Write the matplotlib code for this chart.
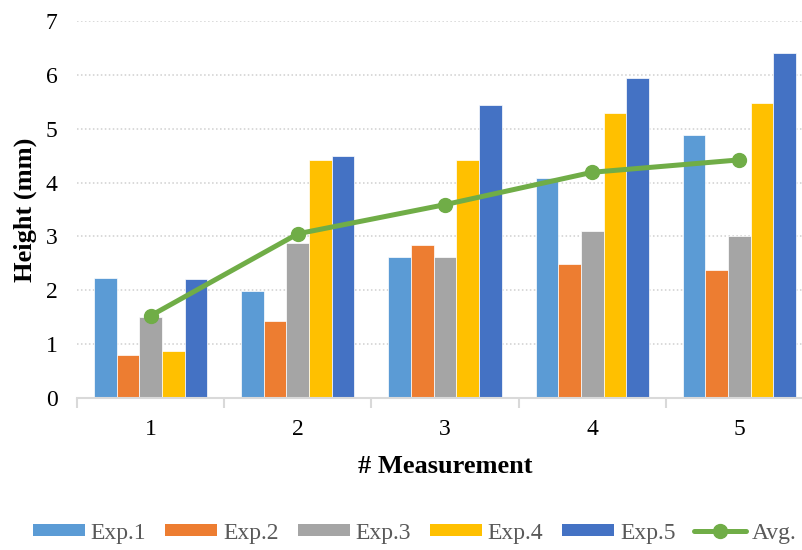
import matplotlib
matplotlib.use("Agg")
import matplotlib.pyplot as plt
import numpy as np
from matplotlib.lines import Line2D
from matplotlib.patches import Patch

# Measurement data (height in mm)
measurements = ["1", "2", "3", "4", "5"]
exp1 = [2.23, 1.99, 2.62, 4.09, 4.89]
exp2 = [0.80, 1.43, 2.85, 2.49, 2.37]
exp3 = [1.51, 2.88, 2.62, 3.10, 3.00]
exp4 = [0.88, 4.42, 4.41, 5.28, 5.47]
exp5 = [2.21, 4.50, 5.43, 5.94, 6.40]
avg = [1.53, 3.05, 3.59, 4.19, 4.42]

series_names = ["Exp.1", "Exp.2", "Exp.3", "Exp.4", "Exp.5"]
series_values = [exp1, exp2, exp3, exp4, exp5]
series_colors = ["#5B9BD5", "#ED7D31", "#A5A5A5", "#FFC000", "#4472C4"]
avg_color = "#70AD47"

plt.rcParams["font.family"] = ["Liberation Serif", "DejaVu Serif"]

fig = plt.figure(figsize=(8.03, 5.5), dpi=100)
# plot area runs slightly past the right edge of the canvas
ax = fig.add_axes([77 / 803, 151.7 / 550, 736 / 803, 377.6 / 550])

x = np.arange(len(measurements))
bar_w = 0.154
for k, (vals, col) in enumerate(zip(series_values, series_colors)):
    ax.bar(x + (k - 2) * bar_w, vals, width=bar_w, color=col,
           edgecolor="white", linewidth=0.5, zorder=2)

ax.plot(x, avg, color=avg_color, linewidth=3.6, marker="o",
        markersize=10, solid_capstyle="round", zorder=3)

ax.set_xlim(-0.5, len(measurements) - 0.5)
ax.set_ylim(0, 7)
ax.set_yticks(range(0, 8))
ax.grid(axis="y", color="#D0D0D0", linestyle=(0, (1, 1.6)), linewidth=1.1, zorder=0)
ax.set_axisbelow(True)

for side in ("left", "right", "top"):
    ax.spines[side].set_visible(False)
ax.spines["bottom"].set_color("#D9D9D9")
ax.spines["bottom"].set_linewidth(1.5)

ax.set_xticks(x)
ax.set_xticklabels(measurements)
ax.set_xticks(np.arange(-0.5, len(measurements)), minor=True)
ax.tick_params(axis="x", which="major", length=0, pad=15, labelsize=17, labelcolor="black")
ax.tick_params(axis="x", which="minor", length=7, width=1.5, color="#D9D9D9")
ax.tick_params(axis="y", length=0, pad=14, labelsize=17, labelcolor="black")

ax.set_xlabel("# Measurement", fontsize=19, fontweight="bold", labelpad=11)
ax.set_ylabel("Height (mm)", fontsize=19, fontweight="bold", labelpad=6)

handles = [Patch(facecolor=c, edgecolor="none", label=n)
           for n, c in zip(series_names, series_colors)]
handles.append(Line2D([0], [0], color=avg_color, linewidth=3.6, marker="o",
                      markersize=10, solid_capstyle="round", label="Avg."))
leg = fig.legend(handles=handles, loc="center", bbox_to_anchor=(415 / 803, 1 - 533 / 550),
                 ncol=6, frameon=False, fontsize=17, handlelength=2.2,
                 handleheight=0.44, handletextpad=0.25, columnspacing=0.8,
                 borderaxespad=0)
for t in leg.get_texts():
    t.set_color("#595959")

fig.savefig("out.png", dpi=100)
